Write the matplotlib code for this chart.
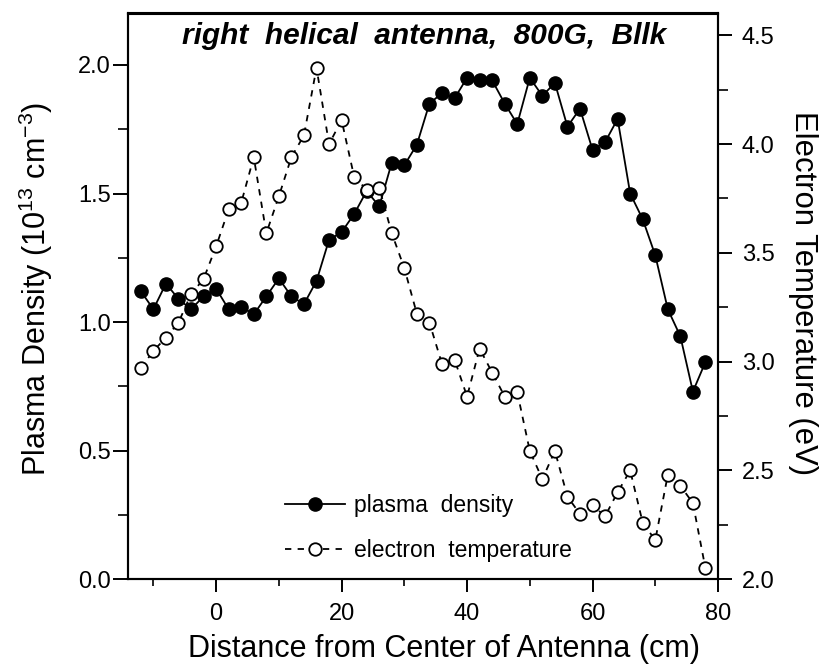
import matplotlib
matplotlib.use("Agg")
import matplotlib.pyplot as plt
from matplotlib.ticker import MultipleLocator, FixedLocator

plt.rcParams['font.family'] = ['Liberation Sans', 'DejaVu Sans']
plt.rcParams['mathtext.default'] = 'regular'

# ---- data ----
distance_cm = list(range(-12, 80, 2))
plasma_density = [1.12, 1.05, 1.15, 1.09, 1.05, 1.10, 1.13, 1.05, 1.06, 1.03,
                  1.10, 1.17, 1.10, 1.07, 1.16, 1.32, 1.35, 1.42, 1.51, 1.45,
                  1.62, 1.61, 1.69, 1.85, 1.89, 1.87, 1.95, 1.94, 1.94, 1.85,
                  1.77, 1.95, 1.88, 1.93, 1.76, 1.83, 1.67, 1.70, 1.79, 1.50,
                  1.40, 1.26, 1.05, 0.945, 0.73, 0.845]
electron_temp = [2.97, 3.05, 3.11, 3.18, 3.31, 3.38, 3.53, 3.70, 3.73, 3.94,
                 3.59, 3.76, 3.94, 4.04, 4.35, 4.00, 4.11, 3.85, 3.79, 3.80,
                 3.59, 3.43, 3.22, 3.18, 2.99, 3.01, 2.84, 3.06, 2.95, 2.84,
                 2.86, 2.59, 2.46, 2.59, 2.38, 2.30, 2.34, 2.29, 2.40, 2.50,
                 2.26, 2.18, 2.48, 2.43, 2.35, 2.05]
x_ticks = [0, 20, 40, 60, 80]
left_ticks = [0.0, 0.5, 1.0, 1.5, 2.0]
right_ticks = [2.0, 2.5, 3.0, 3.5, 4.0, 4.5]

title = "right  helical  antenna,  800G,  Bllk"
xlabel = "Distance from Center of Antenna (cm)"
ylabel_left = "Plasma Density (10$^{13}$ cm$^{-3}$)"
ylabel_right = "Electron Temperature (eV)"
label_density = "plasma  density"
label_temp = "electron  temperature"

# ---- figure ----
fig = plt.figure(figsize=(8.23, 6.65), dpi=100)
ax = fig.add_axes([128.3 / 823, 1 - 579.3 / 665, (718 - 128.3) / 823, (579.3 - 13.5) / 665])
ax2 = ax.twinx()

l1, = ax.plot(distance_cm, plasma_density, color='black', lw=1.3, marker='o',
              markersize=9.5, markerfacecolor='black', markeredgecolor='black',
              label=label_density)
l2, = ax2.plot(distance_cm, electron_temp, color='black', lw=1.3,
               linestyle=(0, (3.5, 3.5)), marker='o', markersize=9,
               markerfacecolor='white', markeredgecolor='black', markeredgewidth=1.3,
               label=label_temp)

ax.set_xlim(-14, 80)
ax.set_ylim(0, 2.2)
ax2.set_ylim(2.0, 4.6)

ax.xaxis.set_major_locator(FixedLocator(x_ticks))
ax.xaxis.set_minor_locator(MultipleLocator(10))
ax.yaxis.set_major_locator(FixedLocator(left_ticks))
ax.yaxis.set_minor_locator(MultipleLocator(0.25))
ax2.yaxis.set_major_locator(FixedLocator(right_ticks))
ax2.yaxis.set_minor_locator(MultipleLocator(0.25))
ax.set_xticklabels([str(v) for v in x_ticks])
ax.set_yticklabels([f"{v:.1f}" for v in left_ticks])
ax2.set_yticklabels([f"{v:.1f}" for v in right_ticks])

for a in (ax, ax2):
    for s in a.spines.values():
        s.set_linewidth(1.5)

ax.tick_params(axis='x', which='major', direction='out', length=9, width=1.4,
               labelsize=17, pad=8, top=False)
ax.tick_params(axis='x', which='minor', direction='out', length=5, width=1.2, top=False)
ax.tick_params(axis='y', which='major', direction='out', length=11, width=1.4,
               labelsize=17, pad=1.5, right=False)
ax.tick_params(axis='y', which='minor', direction='out', length=7, width=1.2, right=False)
ax2.tick_params(axis='y', which='major', direction='out', length=10, width=1.4,
                labelsize=17, pad=7)
ax2.tick_params(axis='y', which='minor', direction='out', length=7, width=1.2)

ax.set_xlabel(xlabel, fontsize=22)
ax.xaxis.set_label_coords((444 - 128.3) / 589.7, (579.3 - 657) / 565.8)
ax.xaxis.label.set_va('baseline')
ax.set_ylabel(ylabel_left, fontsize=22)
ax.yaxis.set_label_coords((36 - 128.3) / 589.7, (579.3 - 289) / 565.8)
ax.yaxis.label.set_va('center')
ax2.set_ylabel(ylabel_right, fontsize=22.3, rotation=-90)
ax2.yaxis.set_label_coords((803 - 128.3) / 589.7, (579.3 - 293) / 565.8)
ax2.yaxis.label.set_va('center')

ax.text((424 - 128.3) / 589.7, (579.3 - 36) / 565.8, title, transform=ax.transAxes,
        ha='center', va='center', fontsize=21.5, fontweight='bold', fontstyle='italic')

leg = ax2.legend([l1, l2], [label_density, label_temp], loc='upper left',
                 bbox_to_anchor=((285 - 128.3) / 589.7, (579.3 - 494) / 565.8),
                 frameon=False, fontsize=16.5, numpoints=1, handlelength=2.6,
                 handletextpad=0.4, labelspacing=0.95, borderpad=0, borderaxespad=0)

fig.savefig("out.png", dpi=100)
